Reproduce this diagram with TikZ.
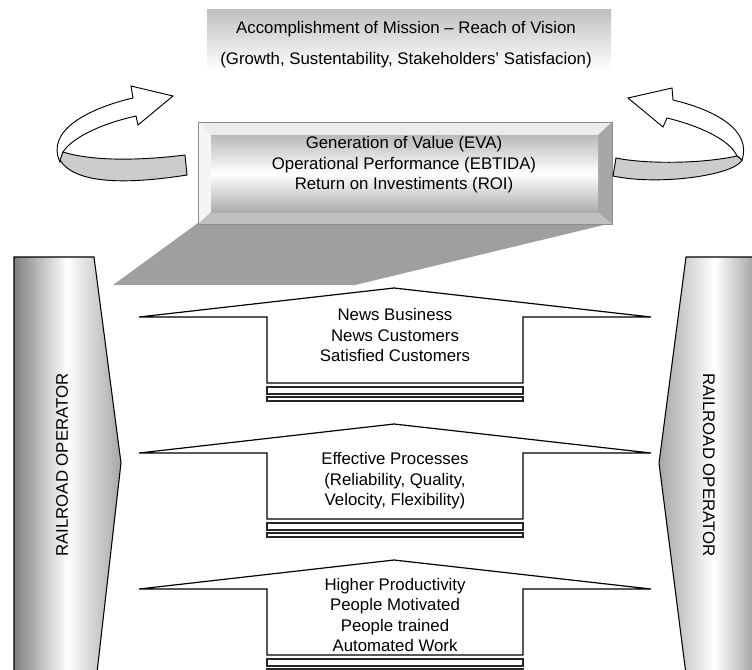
\documentclass[tikz,border=0pt]{standalone}
\usepackage{fontspec}
\setmainfont{Liberation Sans}
\begin{document}
\begin{tikzpicture}[x=0.75pt,y=-0.75pt,
    every node/.style={font=\fontsize{12.6}{15.4}\selectfont, align=center, inner sep=0pt},
    blockarrow/.style={draw=black, line width=0.9pt, fill=white},
    footline/.style={draw=black!85, line width=1.1pt, fill=white},
    ribbon/.style={draw=black, line width=0.7pt, fill=white, line join=miter},
    ribbonback/.style={draw=black, line width=0.7pt, fill=gray!40}]
  \useasboundingbox (0,0) rectangle (752,669);
  \clip (0,0) rectangle (752,669);

  % mission box
  \fill[top color=gray!50, bottom color=white] (207,9) rectangle (611,70);
  \node (mission) at (406,29) {Accomplishment of Mission – Reach of Vision};
  \node (vision) at (406,60) {(Growth, Sustentability, Stakeholders’ Satisfacion)};

  % shadow under the value box
  \fill[gray!75] (198,223) -- (612,223) -- (355,285) -- (113,285) -- cycle;

  % value box (bevelled)
  \fill[gray!15] (198,122) -- (612,122) -- (598,135) -- (211,135) -- cycle;
  \fill[gray!8] (198,122) -- (211,135) -- (211,212) -- (198,224) -- cycle;
  \fill[gray!50] (198,224) -- (211,212) -- (598,212) -- (612,224) -- cycle;
  \fill[gray!70] (612,122) -- (598,135) -- (598,212) -- (612,224) -- cycle;
  \shade[top color=gray!55, bottom color=gray!65, middle color=white] (211,135) rectangle (598,212);
  \draw[gray!90, line width=0.5pt] (198,122) rectangle (612,224);
  \node (values) at (404,165) {Generation of Value (EVA)\\Operational Performance (EBTIDA)\\Return on Investiments (ROI)};

  % operator columns
  \draw[left color=gray, right color=gray!70, middle color=white, line width=0.8pt]
    (14,690) -- (14,257) -- (94,257) -- (121,463) -- (95,690);
  \draw[left color=gray!70, right color=gray, middle color=white, line width=0.8pt]
    (770,257) -- (686,257) -- (659,463) -- (688,690) -- (770,690);
  \node[rotate=90] (opleft) at (62,465) {RAILROAD OPERATOR};
  \node[rotate=-90] (opright) at (709,465) {RAILROAD OPERATOR};

  % upward block arrows
  \foreach \y in {288,424,560} {
    \draw[blockarrow] (267,\y+95) -- (267,\y+29) -- (139,\y+29) -- (394,\y)
      -- (651,\y+29) -- (523,\y+29) -- (523,\y+95) -- cycle;
    \draw[footline] (267,\y+99) rectangle (523,\y+106);
    \draw[footline] (267,\y+109) rectangle (523,\y+113);
  }
  \node (business) at (395,335) {News Business\\News Customers\\Satisfied Customers};
  \node (processes) at (395,481) {Effective Processes\\(Reliability, Quality,\\Velocity, Flexibility)};
  \node (people) at (395,615) {Higher Productivity\\People Motivated\\People trained\\Automated Work};

  % left turning arrow
  \draw[ribbon] (133,98) -- (131,86) -- (173,96) -- (138,125) -- (136,116)
    .. controls (100,124) and (72,138) .. (63,152) -- (60,162)
    .. controls (45,130) and (90,108) .. (133,98) -- cycle;
  \draw[ribbonback] (63,152) .. controls (95,162) and (145,160) .. (185,155) -- (187,175)
    .. controls (130,184) and (75,185) .. (60,160) -- cycle;

  % right turning arrow
  \draw[ribbon] (673,100) -- (672,88) -- (628,98) -- (663,127) -- (667,118)
    .. controls (700,126) and (730,140) .. (737,156) -- (742,160)
    .. controls (752,130) and (715,110) .. (673,100) -- cycle;
  \draw[ribbonback] (616,158) .. controls (645,164) and (700,164) .. (737,156) -- (742,160)
    .. controls (735,175) and (660,186) .. (613,176) -- cycle;
\end{tikzpicture}
\end{document}
